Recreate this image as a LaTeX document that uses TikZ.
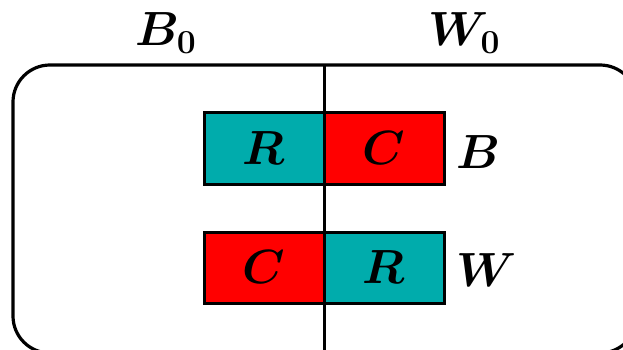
\RequirePackage{fix-cm}
\documentclass[tikz,border=0pt]{standalone}
\definecolor{tealc}{RGB}{0,172,172}
\definecolor{redc}{RGB}{255,0,0}
\tikzset{
  cell/.style={draw=black, line width=3pt, minimum width=120pt, minimum height=71pt, inner sep=0pt, outer sep=0pt, font=\fontsize{48}{58}\selectfont\boldmath},
  lbl/.style={inner sep=0pt, font=\fontsize{48}{58}\selectfont\boldmath},
  frame/.style={draw=black, line width=3.2pt, rounded corners=37pt},
}
\begin{document}
\begin{tikzpicture}[x=1pt,y=-1pt]
\useasboundingbox (0,0) rectangle (623,350);
\clip (0,0) rectangle (623,350);
\draw[frame] (13,65) rectangle (637,353);
\node[cell, fill=tealc] (r1) at (264,148.5) {$R$};
\node[cell, fill=redc] (c1) at (384,148.5) {$C$};
\node[cell, fill=redc] (c2) at (264,267.5) {$C$};
\node[cell, fill=tealc] (r2) at (384,267.5) {$R$};
\draw[line width=3pt] (324,65) -- (324,353);
\node[lbl] (lb) at (478,152) {$B$};
\node[lbl] (lw) at (487,270) {$W$};
\node[lbl, anchor=base west] (b0) at (135,46) {$B_0$};
\node[lbl, anchor=base west] (w0) at (428,46) {$W_0$};
\end{tikzpicture}
\end{document}
